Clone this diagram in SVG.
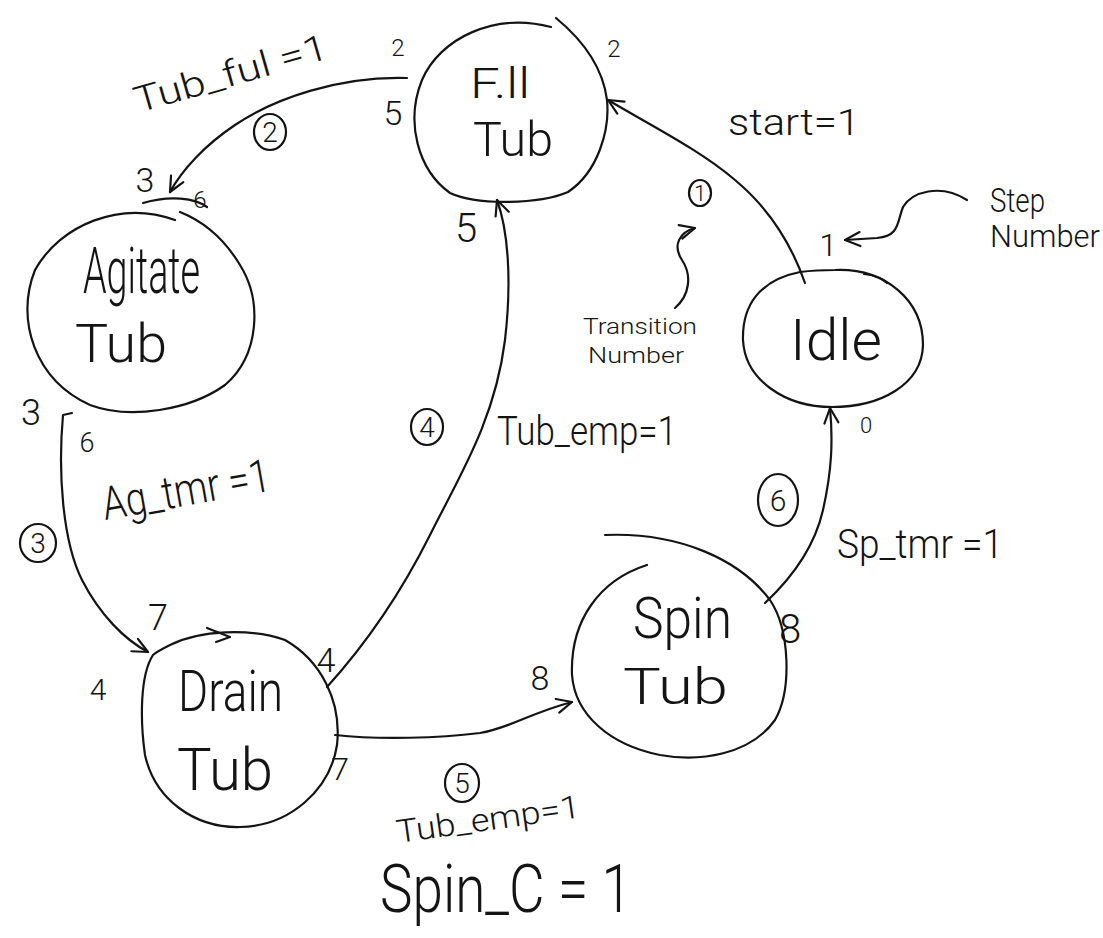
<svg xmlns="http://www.w3.org/2000/svg" width="1103" height="938" viewBox="0 0 1103 938">
  <style>
    .ink { fill: none; stroke: #141414; stroke-width: 2.2; stroke-linecap: round; stroke-linejoin: round; }
    .lbl { font-family: Roboto, "Liberation Sans", "DejaVu Sans", sans-serif; font-weight: 300; fill: #141414; }
    .mid { text-anchor: middle; }
  </style>
  <defs>
    <marker id="head" viewBox="0 0 20 20" refX="18" refY="10" markerWidth="20" markerHeight="20" markerUnits="userSpaceOnUse" orient="auto">
      <path d="M3,3 L18,10 L3,17" fill="none" stroke="#141414" stroke-width="2.2" stroke-linecap="round" stroke-linejoin="round"/>
    </marker>
  </defs>
  <rect width="1103" height="938" fill="#ffffff"/>

  <!-- states -->
  <g id="node-fill">
    <path class="ink" d="M551,27 C495,12 440,38 422,80 C405,122 418,170 450,193 C478,206 540,204 568,192 C598,172 610,130 607,100 C603,68 585,42 556,18"/>
    <text class="lbl" x="470" y="98" font-size="42" textLength="60" lengthAdjust="spacingAndGlyphs">F.ll</text>
    <text class="lbl" x="473" y="156" font-size="48" textLength="80" lengthAdjust="spacingAndGlyphs">Tub</text>
  </g>

  <g id="node-idle">
    <path class="ink" d="M800,272 C760,280 742,305 743,340 C745,380 785,407 832,407 C880,407 922,385 923,345 C923,300 885,268 835,270 C820,270 808,271 800,272"/>
    <path class="ink" d="M864,274 C874,275 882,278 887,283"/>
    <text class="lbl" x="790" y="360" font-size="58" textLength="92" lengthAdjust="spacingAndGlyphs">Idle</text>
  </g>

  <g id="node-agitate">
    <path class="ink" d="M175,220 C120,200 60,225 35,270 C15,320 35,380 90,405 C130,420 190,410 225,385 C260,355 262,300 240,265 C225,240 205,222 180,212"/>
    <path class="ink" d="M143,203 C170,195 195,198 207,207"/>
    <text class="lbl" x="83" y="293" font-size="64" textLength="117" lengthAdjust="spacingAndGlyphs">Agitate</text>
    <text class="lbl" x="75" y="362" font-size="54" textLength="92" lengthAdjust="spacingAndGlyphs">Tub</text>
  </g>

  <g id="node-drain">
    <path class="ink" d="M153,655 C140,675 140,720 145,755 C155,800 195,828 240,827 C290,826 330,790 337,745 C342,700 320,660 285,640 C250,628 200,630 170,645 C162,649 156,652 153,655"/>
    <polyline class="ink" points="207,628 230,637 216,642"/>
    <text class="lbl" x="178" y="711" font-size="58" textLength="105" lengthAdjust="spacingAndGlyphs">Drain</text>
    <text class="lbl" x="177" y="790" font-size="60" textLength="96" lengthAdjust="spacingAndGlyphs">Tub</text>
  </g>

  <g id="node-spin">
    <path class="ink" d="M605,535 C680,532 740,560 770,600 C790,630 792,690 775,720 C750,755 700,762 660,755 C610,745 575,715 572,675 C570,620 600,580 647,565"/>
    <text class="lbl" x="633" y="638" font-size="58" textLength="99" lengthAdjust="spacingAndGlyphs">Spin</text>
    <text class="lbl" x="623" y="704" font-size="50" textLength="105" lengthAdjust="spacingAndGlyphs">Tub</text>
  </g>

  <!-- transitions -->
  <g id="connectors">
    <path class="ink" marker-end="url(#head)" d="M805,283 C790,240 765,205 735,180 C700,150 650,125 608,100"/>
    <path class="ink" marker-end="url(#head)" d="M407,78 C340,76 275,98 235,125 C205,145 182,170 170,192"/>
    <path class="ink" marker-end="url(#head)" d="M72,413 L63,415 C58,470 62,540 82,580 C100,615 125,640 148,652"/>
    <path class="ink" marker-end="url(#head)" d="M327,687 C365,645 400,595 430,535 C460,475 495,420 505,340 C512,280 508,230 497,200"/>
    <path class="ink" marker-end="url(#head)" d="M335,735 C380,740 440,738 480,733 C510,728 530,713 572,702"/>
    <path class="ink" marker-end="url(#head)" d="M765,603 C795,575 815,545 823,510 C832,470 833,440 830,408"/>
    <!-- callout arrows -->
    <path class="ink" marker-end="url(#head)" d="M967,200 C940,183 912,192 903,207 C897,222 900,236 877,238 L845,240"/>
    <path class="ink" marker-end="url(#head)" d="M675,308 C690,295 692,275 682,260 C672,245 680,232 695,228"/>
  </g>

  <!-- transition numbers -->
  <g id="transition-ids">
    <ellipse class="ink" cx="700" cy="193" rx="11" ry="13"/>
    <text class="lbl mid" x="700" y="201" font-size="22">1</text>
    <ellipse class="ink" cx="270" cy="132" rx="16" ry="18"/>
    <text class="lbl mid" x="270" y="142" font-size="28">2</text>
    <ellipse class="ink" cx="38" cy="543" rx="18" ry="19"/>
    <text class="lbl mid" x="38" y="553" font-size="28">3</text>
    <ellipse class="ink" cx="427" cy="427" rx="16" ry="18"/>
    <text class="lbl mid" x="427" y="437" font-size="28">4</text>
    <ellipse class="ink" cx="462" cy="783" rx="17" ry="19"/>
    <text class="lbl mid" x="462" y="793" font-size="28">5</text>
    <ellipse class="ink" cx="778" cy="500" rx="20" ry="26"/>
    <text class="lbl mid" x="778" y="511" font-size="30">6</text>
  </g>

  <!-- step numbers -->
  <g id="step-ids">
    <text class="lbl mid" x="398" y="56" font-size="24">2</text>
    <text class="lbl mid" x="393" y="125" font-size="34">5</text>
    <text class="lbl mid" x="614" y="57" font-size="24">2</text>
    <text class="lbl mid" x="145" y="192" font-size="34">3</text>
    <text class="lbl mid" x="200" y="208" font-size="24">6</text>
    <text class="lbl mid" x="31" y="425" font-size="36">3</text>
    <text class="lbl mid" x="87" y="452" font-size="27">6</text>
    <text class="lbl mid" x="158" y="630" font-size="36">7</text>
    <text class="lbl mid" x="98" y="700" font-size="30">4</text>
    <text class="lbl mid" x="326" y="672" font-size="34">4</text>
    <text class="lbl mid" x="340" y="780" font-size="32">7</text>
    <text class="lbl mid" x="540" y="690" font-size="34">8</text>
    <text class="lbl mid" x="790" y="643" font-size="40">8</text>
    <text class="lbl mid" x="466" y="242" font-size="40">5</text>
    <text class="lbl mid" x="828" y="256" font-size="32">1</text>
    <text class="lbl mid" x="866" y="433" font-size="22">0</text>
  </g>

  <!-- conditions and notes -->
  <g id="conditions">
    <text class="lbl" x="138" y="113" font-size="36" transform="rotate(-16 138 113)" textLength="200" lengthAdjust="spacingAndGlyphs">Tub_ful =1</text>
    <text class="lbl" x="728" y="135" font-size="36" textLength="132" lengthAdjust="spacingAndGlyphs">start=1</text>
    <text class="lbl" x="990" y="212" font-size="34" textLength="55" lengthAdjust="spacingAndGlyphs">Step</text>
    <text class="lbl" x="990" y="247" font-size="32" textLength="110" lengthAdjust="spacingAndGlyphs">Number</text>
    <text class="lbl" x="583" y="334" font-size="22" textLength="114" lengthAdjust="spacingAndGlyphs">Transition</text>
    <text class="lbl" x="588" y="363" font-size="22" textLength="96" lengthAdjust="spacingAndGlyphs">Number</text>
    <text class="lbl" x="497" y="445" font-size="40" textLength="180" lengthAdjust="spacingAndGlyphs">Tub_emp=1</text>
    <text class="lbl" x="105" y="520" font-size="46" transform="rotate(-10 105 520)" textLength="170" lengthAdjust="spacingAndGlyphs">Ag_tmr =1</text>
    <text class="lbl" x="837" y="558" font-size="40" textLength="166" lengthAdjust="spacingAndGlyphs">Sp_tmr =1</text>
    <text class="lbl" x="398" y="843" font-size="32" transform="rotate(-8 398 843)" textLength="185" lengthAdjust="spacingAndGlyphs">Tub_emp=1</text>
    <text class="lbl" x="380" y="912" font-size="66" textLength="252" lengthAdjust="spacingAndGlyphs">Spin_C = 1</text>
  </g>
</svg>
